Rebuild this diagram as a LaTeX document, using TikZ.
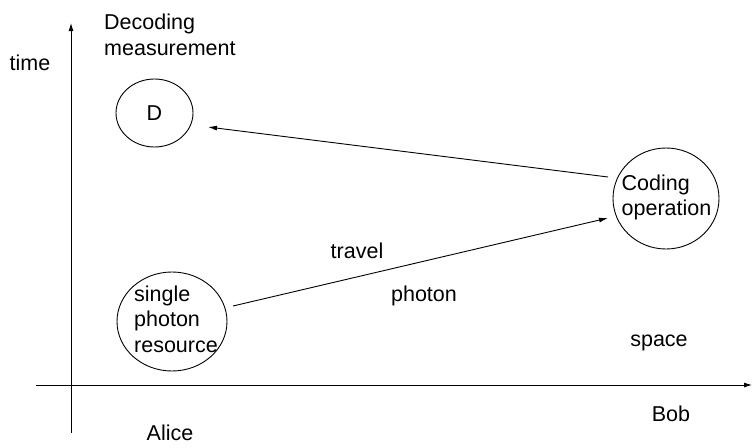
\documentclass[tikz,border=0pt]{standalone}
\usepackage{fontspec}
\setmainfont{Liberation Sans}
\usetikzlibrary{shapes.geometric,arrows.meta}
\begin{document}
\begin{tikzpicture}[x=1pt,y=-1pt,
  lbl/.style={font=\fontsize{21.5}{25.5}\selectfont, inner sep=0pt, align=left},
  oval/.style={draw, ellipse, line width=0.9pt, inner sep=0pt},
  axis/.style={line width=0.9pt, -{Latex[length=8pt,width=5pt]}},
  conn/.style={line width=0.9pt, -{Latex[length=9pt,width=5pt]}}]
\useasboundingbox (0,0) rectangle (752,447);
% axes
\coordinate (yb) at (71,433);
\coordinate (yt) at (71,23);
\coordinate (xl) at (36,385);
\coordinate (xr) at (752,385);
\draw[axis] (yb) -- (yt);
\draw[axis] (xl) -- (xr);
% ovals
\node[oval, minimum width=77pt, minimum height=68pt] (d) at (154.5,113) {};
\node[lbl] (dt) at (d) {D};
\node[oval, minimum width=110pt, minimum height=99pt] (spr) at (172,321.5) {};
\node[lbl] (sprt) at (176,319) {single\\photon\\resource};
\node[oval, minimum width=106pt, minimum height=101pt] (cod) at (666,198.5) {};
\node[lbl] (codt) at (666.5,197.5) {Coding\\operation};
% labels
\node[lbl] (time) at (30,63) {time};
\node[lbl, anchor=west] (dec) at (104,35) {Decoding\\measurement};
\node[lbl] (travel) at (357,251) {travel};
\node[lbl] (photon) at (424,296) {photon};
\node[lbl] (space) at (659,343) {space};
\node[lbl] (bob) at (671,414) {Bob};
\node[lbl] (alice) at (170,433) {Alice};
% connectors
\coordinate (codOut) at (608,177);
\coordinate (dIn) at (208,127);
\coordinate (sprOut) at (233,306);
\coordinate (codIn) at (608,218);
\draw[conn] (codOut) -- (dIn);
\draw[conn] (sprOut) -- (codIn);
\end{tikzpicture}
\end{document}
